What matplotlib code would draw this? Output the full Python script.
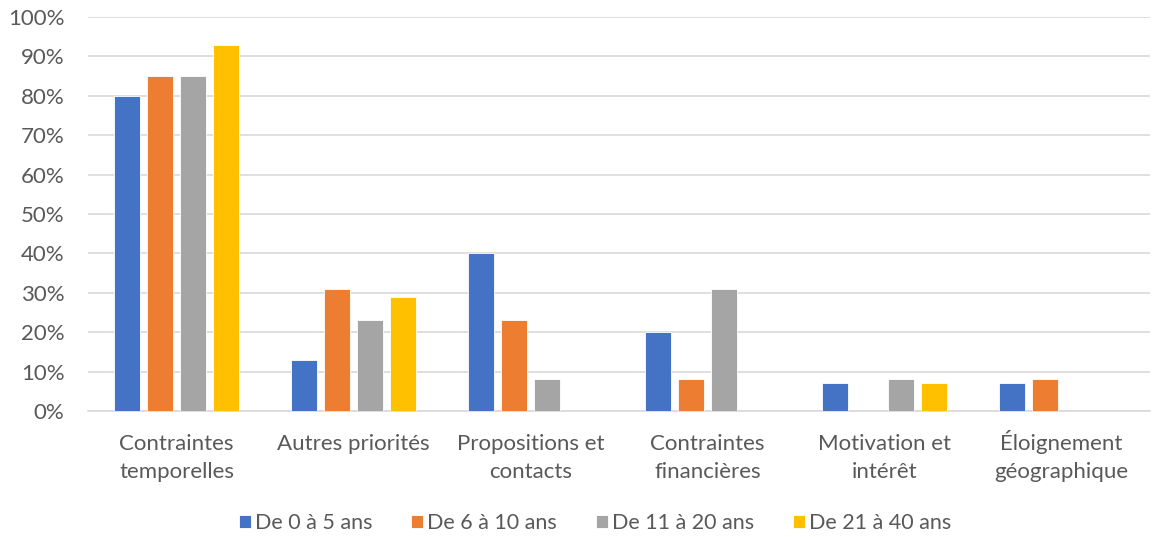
import numpy as np
import matplotlib.pyplot as plt

categories = ["Contraintes\ntemporelles", "Autres priorités", "Propositions et\ncontacts",
              "Contraintes\nfinancières", "Motivation et\nintérêt", "Éloignement\ngéographique"]
series_names = ["De 0 à 5 ans", "De 6 à 10 ans", "De 11 à 20 ans", "De 21 à 40 ans"]
ans_0_5 = [80, 13, 40, 20, 7, 7]
ans_6_10 = [85, 31, 23, 8, 0, 8]
ans_11_20 = [85, 23, 8, 31, 8, 0]
ans_21_40 = [93, 29, 0, 0, 7, 0]
colors = ["#4472C4", "#ED7D31", "#A5A5A5", "#FFC000"]

plt.rcParams['font.family'] = ['Lato', 'DejaVu Sans']

fig = plt.figure(figsize=(11.53, 5.37), dpi=100)
ax = fig.add_axes([88 / 1153, 1 - 411 / 537, 1062 / 1153, 394 / 537])

x = np.arange(len(categories))
step = 0.186
width = 0.147
for k, (vals, name) in enumerate(zip([ans_0_5, ans_6_10, ans_11_20, ans_21_40], series_names)):
    ax.bar(x + (k - 1.5) * step, vals, width, color=colors[k], label=name,
           edgecolor="white", linewidth=0.6, zorder=3)

ax.set_xlim(-0.5, len(categories) - 0.5)
ax.set_ylim(0, 100)
ax.set_yticks(range(0, 101, 10))
ax.set_yticklabels([f"{v}%" for v in range(0, 101, 10)])
ax.set_xticks(x)
# two-line labels everywhere so all first lines share one baseline
labels = [c if "\n" in c else c + "\n " for c in categories]
ax.set_xticklabels(labels, linespacing=1.5, va="baseline")
ax.grid(axis="y", color="#D9D9D9", linewidth=1.2, zorder=0)
for s in ["top", "right", "left"]:
    ax.spines[s].set_visible(False)
ax.spines["bottom"].set_color("#D9D9D9")
ax.spines["bottom"].set_linewidth(1.2)
ax.tick_params(axis="both", length=0, colors="#595959")
ax.tick_params(axis="x", pad=48, labelsize=16)
ax.tick_params(axis="y", pad=17, labelsize=16)

fig.legend(loc="center", bbox_to_anchor=(595 / 1153, 1 - 523 / 537), ncol=4, frameon=False,
           fontsize=15.5, labelcolor="#595959", handlelength=0.55, handleheight=0.55,
           handletextpad=0.2, columnspacing=1.8)

fig.savefig("out.png")
